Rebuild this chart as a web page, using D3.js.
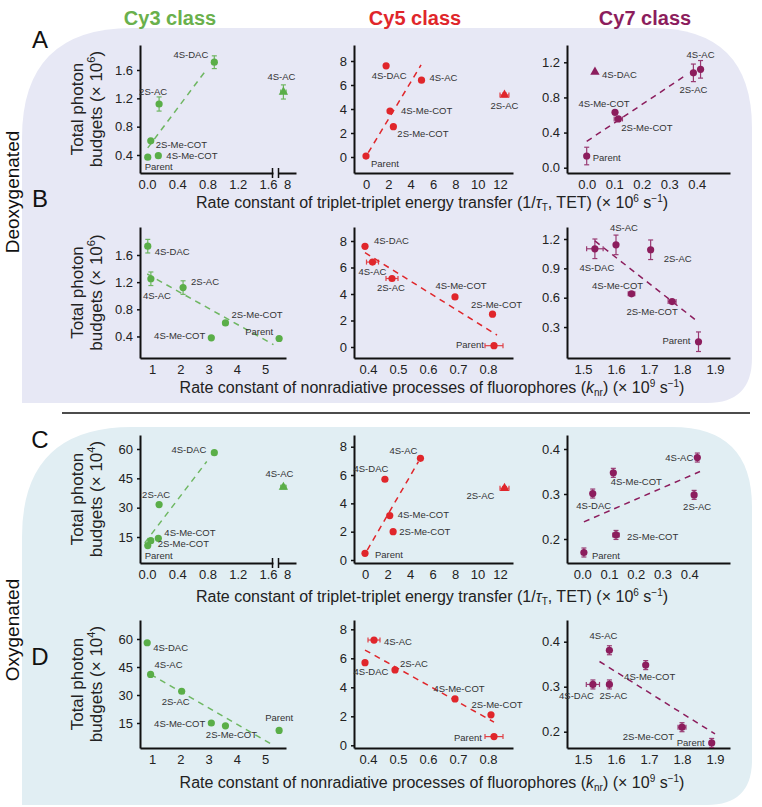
<!DOCTYPE html>
<html><head><meta charset="utf-8">
<script src="https://cdn.jsdelivr.net/npm/d3@7"></script>
<style>body{margin:0;background:#fff;} svg{display:block;font-family:"Liberation Sans",Arial,sans-serif;}</style>
</head><body><svg id="c" width="762" height="807"></svg>
<script>
// ---------------- DATA ----------------
const compounds = ["Parent","2S-Me-COT","4S-Me-COT","2S-AC","4S-AC","4S-DAC"];
const classes = ["Cy3 class","Cy5 class","Cy7 class"];

// A: deoxygenated, TET rate (x 10^6 s^-1) vs photon budget (x 10^6)
const A_cy3_x = [0.01, 0.05, 0.15, 0.16, 7.8, 0.89];
const A_cy3_y = [0.37, 0.60, 0.39, 1.12, 1.29, 1.71];
const A_cy3_xerr = [0, 0, 0, 0, 0.15, 0];
const A_cy3_yerr = [0, 0, 0, 0.10, 0.10, 0.09];
const A_cy3_fit = [[0.01, 0.50], [0.79, 1.61]];

const A_cy5_x = [0.0, 2.45, 2.15, 12.4, 4.97, 1.8];
const A_cy5_y = [0.08, 2.53, 3.83, 5.17, 6.4, 7.6];
const A_cy5_xerr = [0, 0, 0, 0.4, 0, 0];
const A_cy5_yerr = [0, 0, 0, 0.15, 0, 0];
const A_cy5_fit = [[0.2, 0.36], [4.93, 7.67]];

const A_cy7_x = [0.0, 0.115, 0.103, 0.388, 0.414, 0.03];
const A_cy7_y = [0.133, 0.555, 0.63, 1.08, 1.12, 1.09];
const A_cy7_xerr = [0, 0.015, 0, 0, 0, 0];
const A_cy7_yerr = [0.1, 0, 0, 0.1, 0.1, 0];
const A_cy7_fit = [[0.0, 0.3], [0.364, 1.06]];

// B: deoxygenated, knr (x 10^9 s^-1) vs photon budget (x 10^6)
const B_cy3_x = [5.5, 3.6, 3.1, 2.1, 0.96, 0.85];
const B_cy3_y = [0.37, 0.6, 0.38, 1.12, 1.25, 1.73];
const B_cy3_xerr = [0, 0, 0, 0, 0, 0];
const B_cy3_yerr = [0, 0, 0, 0.1, 0.1, 0.1];
const B_cy3_fit = [[0.83, 1.32], [5.3, 0.28]];

const B_cy5_x = [0.82, 0.815, 0.69, 0.48, 0.415, 0.39];
const B_cy5_y = [0.1, 2.48, 3.78, 5.17, 6.41, 7.6];
const B_cy5_xerr = [0.03, 0, 0, 0.02, 0.02, 0];
const B_cy5_yerr = [0, 0, 0, 0, 0, 0];
const B_cy5_fit = [[0.39, 7.12], [0.83, 0.9]];

const B_cy7_x = [1.85, 1.77, 1.647, 1.705, 1.6, 1.536];
const B_cy7_y = [0.15, 0.56, 0.64, 1.09, 1.14, 1.1];
const B_cy7_xerr = [0, 0.012, 0.01, 0, 0, 0.025];
const B_cy7_yerr = [0.1, 0, 0, 0.1, 0.1, 0.1];
const B_cy7_fit = [[1.536, 1.18], [1.85, 0.35]];

// C: oxygenated, TET rate vs photon budget (x 10^4)
const C_cy3_x = [0.01, 0.05, 0.15, 0.16, 7.8, 0.89];
const C_cy3_y = [10.6, 13.1, 14.3, 31.6, 40.5, 58.1];
const C_cy3_xerr = [0, 0, 0, 0, 0.15, 0];
const C_cy3_yerr = [0, 0, 0, 0, 1.0, 0];
const C_cy3_fit = [[-0.03, 12], [0.79, 53.6]];

const C_cy5_x = [0.0, 2.5, 2.2, 12.4, 4.93, 1.77];
const C_cy5_y = [0.47, 2.0, 3.14, 5.07, 7.18, 5.7];
const C_cy5_xerr = [0, 0, 0, 0.4, 0, 0];
const C_cy5_yerr = [0, 0, 0, 0.12, 0, 0];
const C_cy5_fit = [[0.2, 0.7], [4.75, 6.94]];

const C_cy7_x = [0.006, 0.126, 0.116, 0.418, 0.43, 0.039];
const C_cy7_y = [0.17, 0.209, 0.347, 0.298, 0.381, 0.301];
const C_cy7_xerr = [0, 0.012, 0, 0, 0, 0];
const C_cy7_yerr = [0.01, 0.01, 0.01, 0.01, 0.01, 0.01];
const C_cy7_fit = [[0.006, 0.238], [0.44, 0.35]];

// D: oxygenated, knr vs photon budget (x 10^4)
const D_cy3_x = [5.5, 3.6, 3.1, 2.05, 0.95, 0.83];
const D_cy3_y = [11, 13.5, 15, 32, 41, 58];
const D_cy3_xerr = [0, 0, 0, 0, 0, 0];
const D_cy3_yerr = [0, 0, 0, 0, 0, 0];
const D_cy3_fit = [[0.95, 41], [5.3, 3]];

const D_cy5_x = [0.82, 0.81, 0.69, 0.49, 0.42, 0.39];
const D_cy5_y = [0.6, 2.1, 3.2, 5.2, 7.26, 5.7];
const D_cy5_xerr = [0.03, 0, 0, 0, 0.02, 0];
const D_cy5_yerr = [0, 0, 0, 0, 0, 0];
const D_cy5_fit = [[0.39, 6.57], [0.82, 1.6]];

const D_cy7_x = [1.89, 1.8, 1.69, 1.58, 1.58, 1.53];
const D_cy7_y = [0.175, 0.21, 0.348, 0.305, 0.381, 0.305];
const D_cy7_xerr = [0, 0.012, 0, 0, 0, 0.02];
const D_cy7_yerr = [0.01, 0.01, 0.01, 0.01, 0.01, 0.01];
const D_cy7_fit = [[1.55, 0.356], [1.9, 0.195]];

// tick values
const tetCy3Ticks = [0.0, 0.4, 0.8, 1.2, 1.6];
const tetCy3BreakTicks = [8];
const tetCy5Ticks = [0, 2, 4, 6, 8, 10, 12];
const tetCy7Ticks = [0.0, 0.1, 0.2, 0.3, 0.4];
const knrCy3Ticks = [1, 2, 3, 4, 5];
const knrCy5Ticks = [0.4, 0.5, 0.6, 0.7, 0.8];
const knrCy7Ticks = [1.5, 1.6, 1.7, 1.8, 1.9];
const deoxCy3YTicks = [0.4, 0.8, 1.2, 1.6];
const deoxCy5YTicks = [0, 2, 4, 6, 8];
const deoxCy7YTicksA = [0.0, 0.4, 0.8, 1.2];
const deoxCy7YTicksB = [0.3, 0.6, 0.9, 1.2];
const oxCy3YTicks = [15, 30, 45, 60];
const oxCy5YTicks = [0, 2, 4, 6, 8];
const oxCy7YTicks = [0.2, 0.3, 0.4];

// ---------------- LAYOUT / STYLE ----------------
const COL = {cy3: "#5aae48", cy5: "#e0262b", cy7: "#8c1d5d"};
const HEAD = {cy3: "#6ab04c", cy5: "#e0262b", cy7: "#8c1d5d"};
const LABEL_SIZE = 9.5;
const svg = d3.select("#c");

function roundedPath(x0, y0, x1, y1, rtl, rtr, rbr, rbl) {
  return `M${x0},${y0 + rtl} Q${x0},${y0} ${x0 + rtl},${y0} L${x1 - rtr},${y0} Q${x1},${y0} ${x1},${y0 + rtr}
  L${x1},${y1 - rbr} Q${x1},${y1} ${x1 - rbr},${y1} L${x0 + rbl},${y1} Q${x0},${y1} ${x0},${y1 - rbl} Z`;
}
svg.append("path").attr("d", roundedPath(22, 28, 752, 403, 110, 100, 45, 0)).attr("fill", "#e7e8f5");
svg.append("path").attr("d", roundedPath(22, 427, 752, 805, 110, 80, 45, 0)).attr("fill", "#e1eef3");
svg.append("line").attr("x1", 62).attr("x2", 750).attr("y1", 413).attr("y2", 413).attr("stroke", "#111").attr("stroke-width", 1.5);

[["cy3", 170], ["cy5", 415], ["cy7", 645]].forEach(([k, cx], i) => {
  svg.append("text").attr("x", cx).attr("y", 25).attr("text-anchor", "middle")
    .attr("font-size", 20).attr("font-weight", "bold").attr("fill", HEAD[k]).text(classes[i]);
});
[["A", 42], ["B", 201], ["C", 442], ["D", 659]].forEach(([t, y]) => {
  svg.append("text").attr("x", 40).attr("y", y).attr("text-anchor", "middle").attr("dominant-baseline", "middle")
    .attr("font-size", 24).attr("fill", "#111").text(t);
});
[["Deoxygenated", 192], ["Oxygenated", 630]].forEach(([t, y]) => {
  svg.append("text").attr("transform", `translate(14,${y}) rotate(-90)`).attr("text-anchor", "middle")
    .attr("dominant-baseline", "middle").attr("font-size", 19).attr("fill", "#111").text(t);
});

const ROW = {A: [45, 173], B: [227, 358], C: [435, 563], D: [620, 748]};
const XR = {cy3: [140, 273], cy3k: [140, 286], cy5: [354, 513], cy7: [567, 730]};

function calib(v1, p1, v2, p2, pa, pb) {
  const k = (v2 - v1) / (p2 - p1);
  return [v1 + (pa - p1) * k, v1 + (pb - p1) * k];
}

function yTitle(row, exp) {
  const [t, b] = ROW[row];
  const cy = (t + b) / 2;
  svg.append("text").attr("transform", `translate(79,${cy}) rotate(-90)`).attr("text-anchor", "middle")
    .attr("dominant-baseline", "middle").attr("font-size", 17).attr("fill", "#222").text("Total photon");
  const t2 = svg.append("text").attr("transform", `translate(98,${cy}) rotate(-90)`).attr("text-anchor", "middle")
    .attr("dominant-baseline", "middle").attr("font-size", 17).attr("fill", "#222");
  t2.append("tspan").text("budgets (× 10");
  t2.append("tspan").attr("font-size", 11).attr("dy", -6).text(exp);
  t2.append("tspan").attr("dy", 6).text(")");
}
function xTitleTET(y) {
  const t = svg.append("text").attr("x", 432).attr("y", y).attr("text-anchor", "middle")
    .attr("dominant-baseline", "middle").attr("font-size", 16).attr("fill", "#222");
  t.append("tspan").text("Rate constant of triplet-triplet energy transfer (1/");
  t.append("tspan").attr("font-style", "italic").text("τ");
  t.append("tspan").attr("font-size", 10).attr("dy", 4).text("T");
  t.append("tspan").attr("dy", -4).text(", TET) (× 10");
  t.append("tspan").attr("font-size", 10).attr("dy", -5).text("6");
  t.append("tspan").attr("dy", 5).text(" s");
  t.append("tspan").attr("font-size", 10).attr("dy", -5).text("−1");
  t.append("tspan").attr("dy", 5).text(")");
}
function xTitleKnr(y) {
  const t = svg.append("text").attr("x", 432).attr("y", y).attr("text-anchor", "middle")
    .attr("dominant-baseline", "middle").attr("font-size", 16).attr("fill", "#222");
  t.append("tspan").text("Rate constant of nonradiative processes of fluorophores (");
  t.append("tspan").attr("font-style", "italic").text("k");
  t.append("tspan").attr("font-size", 10).attr("dy", 4).text("nr");
  t.append("tspan").attr("dy", -4).text(") (× 10");
  t.append("tspan").attr("font-size", 10).attr("dy", -5).text("9");
  t.append("tspan").attr("dy", 5).text(" s");
  t.append("tspan").attr("font-size", 10).attr("dy", -5).text("−1");
  t.append("tspan").attr("dy", 5).text(")");
}
yTitle("A", "6"); yTitle("B", "6"); yTitle("C", "4"); yTitle("D", "4");
xTitleTET(204); xTitleKnr(389); xTitleTET(598); xTitleKnr(784);

function drawPanel(p) {
  const g = svg.append("g");
  const [top, bot] = ROW[p.row];
  const [xl, xr] = XR[p.xr];
  const x = d3.scaleLinear().domain(calib(...p.xc, xl, xr)).range([xl, xr]);
  const y = d3.scaleLinear().domain(calib(...p.yc, bot, top)).range([bot, top]);
  const xb = p.brk ? d3.scaleLinear().domain(p.brk.d).range(p.brk.r) : null;
  const X = v => (xb && v >= p.brk.d[0]) ? xb(v) : x(v);
  const color = COL[p.cls];

  const ya = g.append("g").attr("transform", `translate(${xl},0)`)
    .call(d3.axisLeft(y).tickValues(p.yt).tickSize(3).tickSizeOuter(0).tickPadding(4).tickFormat(d3.format(p.yf)));
  const xa = g.append("g").attr("transform", `translate(0,${bot})`)
    .call(d3.axisBottom(x).tickValues(p.xt).tickSize(0).tickSizeOuter(0).tickPadding(7).tickFormat(d3.format(p.xf)));
  [ya, xa].forEach(a => {
    a.select(".domain").attr("stroke", "#111").attr("stroke-width", 2);
    a.selectAll(".tick line").attr("stroke", "#111").attr("stroke-width", 1.5);
    a.selectAll(".tick text").attr("font-size", 13).attr("fill", "#222").attr("font-family", "Liberation Sans, Arial, sans-serif");
  });
  if (xb) {
    const xa2 = g.append("g").attr("transform", `translate(0,${bot})`)
      .call(d3.axisBottom(xb).tickValues(p.brk.t).tickSize(0).tickSizeOuter(0).tickPadding(7).tickFormat(d3.format("d")));
    xa2.select(".domain").attr("stroke", "#111").attr("stroke-width", 2);
    xa2.selectAll(".tick text").attr("font-size", 13).attr("fill", "#222").attr("font-family", "Liberation Sans, Arial, sans-serif");
    [xr - 0.5, p.brk.r[0] + 0.5].forEach(bx => {
      g.append("line").attr("x1", bx).attr("x2", bx).attr("y1", bot - 5).attr("y2", bot + 5)
        .attr("stroke", "#111").attr("stroke-width", 1.5);
    });
  }

  g.append("line").attr("x1", X(p.fit[0][0])).attr("y1", y(p.fit[0][1]))
    .attr("x2", X(p.fit[1][0])).attr("y2", y(p.fit[1][1]))
    .attr("stroke", color).attr("stroke-width", 1.5).attr("stroke-dasharray", "6,5")
    .attr("opacity", p.cls === "cy3" ? 0.85 : 1);

  const pts = compounds.map((c, i) => ({c, i, x: p.x[i], y: p.y[i], xe: p.xe[i], ye: p.ye[i]}));
  const eb = g.append("g").attr("stroke", color).attr("stroke-width", 1.2).attr("opacity", 0.85);
  pts.forEach(d => {
    const cx = X(d.x), cy = y(d.y);
    if (d.ye > 0) {
      const y1 = y(d.y - d.ye), y2 = y(d.y + d.ye);
      eb.append("line").attr("x1", cx).attr("x2", cx).attr("y1", y1).attr("y2", y2);
      [y1, y2].forEach(yy => eb.append("line").attr("x1", cx - 2.5).attr("x2", cx + 2.5).attr("y1", yy).attr("y2", yy));
    }
    if (d.xe > 0) {
      const x1 = X(d.x - d.xe), x2 = X(d.x + d.xe);
      eb.append("line").attr("x1", x1).attr("x2", x2).attr("y1", cy).attr("y2", cy);
      [x1, x2].forEach(xx => eb.append("line").attr("x1", xx).attr("x2", xx).attr("y1", cy - 2.5).attr("y2", cy + 2.5));
    }
  });
  pts.forEach(d => {
    const cx = X(d.x), cy = y(d.y);
    if (p.tri && p.tri.includes(d.c)) {
      g.append("path").attr("d", d3.symbol(d3.symbolTriangle, 38)()).attr("transform", `translate(${cx},${cy})`).attr("fill", color);
    } else {
      g.append("circle").attr("cx", cx).attr("cy", cy).attr("r", 3.6).attr("fill", color);
    }
  });
  pts.forEach(d => {
    const L = p.lab[d.i];
    g.append("text").attr("x", X(d.x) + L[0]).attr("y", y(d.y) + L[1]).attr("text-anchor", L[2])
      .attr("dominant-baseline", "middle").attr("font-size", LABEL_SIZE).attr("fill", "#333").text(d.c);
  });
}

const S = "start", M = "middle", E = "end";
drawPanel({row: "A", cls: "cy3", xr: "cy3", x: A_cy3_x, y: A_cy3_y, xe: A_cy3_xerr, ye: A_cy3_yerr, fit: A_cy3_fit,
  xc: [0, 147, 1.6, 268], yc: [0.4, 155, 1.6, 70], xt: tetCy3Ticks, xf: ".1f", yt: deoxCy3YTicks, yf: ".1f",
  brk: {d: [7.5, 8.5], r: [278, 296], t: tetCy3BreakTicks}, tri: ["4S-AC"],
  lab: [[-3, 10, S], [5, 5, S], [8, 1, S], [-6, -12, M], [-2, -14, M], [-6, -7, E]]});
drawPanel({row: "A", cls: "cy5", xr: "cy5", x: A_cy5_x, y: A_cy5_y, xe: A_cy5_xerr, ye: A_cy5_yerr, fit: A_cy5_fit,
  xc: [0, 366, 12, 500], yc: [0, 157, 8, 61], xt: tetCy5Ticks, xf: "d", yt: deoxCy5YTicks, yf: "d", tri: ["2S-AC"],
  lab: [[5, 8, S], [4, 8, S], [11, 0, S], [0, 12, M], [8, -2, S], [3, 11, M]]});
drawPanel({row: "A", cls: "cy7", xr: "cy7", x: A_cy7_x, y: A_cy7_y, xe: A_cy7_xerr, ye: A_cy7_yerr, fit: A_cy7_fit,
  xc: [0, 586.7, 0.4, 696.7], yc: [0, 167.7, 1.2, 62.3], xt: tetCy7Ticks, xf: ".1f", yt: deoxCy7YTicksA, yf: ".1f", tri: ["4S-DAC"],
  lab: [[6, 2, S], [3, 10, S], [-11, -8, M], [0, 18, M], [0, -14, M], [7, 4, S]]});

drawPanel({row: "B", cls: "cy3", xr: "cy3k", x: B_cy3_x, y: B_cy3_y, xe: B_cy3_xerr, ye: B_cy3_yerr, fit: B_cy3_fit,
  xc: [1, 152, 5, 265], yc: [1.6, 255, 0.8, 309.3], xt: knrCy3Ticks, xf: "d", yt: deoxCy3YTicks, yf: ".1f",
  lab: [[-6, -6, E], [6, -7, S], [-6, -1, E], [8, -5, S], [6, 18, M], [7, 6, S]]});
drawPanel({row: "B", cls: "cy5", xr: "cy5", x: B_cy5_x, y: B_cy5_y, xe: B_cy5_xerr, ye: B_cy5_yerr, fit: B_cy5_fit,
  xc: [0.4, 368, 0.8, 488], yc: [0, 347, 8, 241], xt: knrCy5Ticks, xf: ".1f", yt: deoxCy5YTicks, yf: "d",
  lab: [[-10, 0, E], [4, -9, M], [6, -10, M], [-1, 10, M], [0, 10, M], [9, -5, S]]});
drawPanel({row: "B", cls: "cy7", xr: "cy7", x: B_cy7_x, y: B_cy7_y, xe: B_cy7_xerr, ye: B_cy7_yerr, fit: B_cy7_fit,
  xc: [1.5, 583, 1.9, 715], yc: [1.2, 239, 0.6, 297.7], xt: knrCy7Ticks, xf: ".1f", yt: deoxCy7YTicksB, yf: ".1f",
  lab: [[-8, 0, E], [-20, 11, M], [-14, -7, M], [13, 10, S], [8, -16, M], [2, 20, M]]});

drawPanel({row: "C", cls: "cy3", xr: "cy3", x: C_cy3_x, y: C_cy3_y, xe: C_cy3_xerr, ye: C_cy3_yerr, fit: C_cy3_fit,
  xc: [0, 147, 1.6, 268], yc: [60, 449, 15, 537], xt: tetCy3Ticks, xf: ".1f", yt: oxCy3YTicks, yf: "d",
  brk: {d: [7.5, 8.5], r: [278, 296], t: tetCy3BreakTicks}, tri: ["4S-AC"],
  lab: [[-3, 11, S], [7, 4, S], [6, -5, S], [-3, -9, M], [-4, -13, M], [-8, -2, E]]});
drawPanel({row: "C", cls: "cy5", xr: "cy5", x: C_cy5_x, y: C_cy5_y, xe: C_cy5_xerr, ye: C_cy5_yerr, fit: C_cy5_fit,
  xc: [0, 365, 12, 500], yc: [0, 560, 8, 446.7], xt: tetCy5Ticks, xf: "d", yt: oxCy5YTicks, yf: "d", tri: ["2S-AC"],
  lab: [[10, 2, S], [6, 1, S], [8, 0, S], [-24, 8, M], [-17, -7, M], [-14, -10, M]]});
drawPanel({row: "C", cls: "cy7", xr: "cy7", x: C_cy7_x, y: C_cy7_y, xe: C_cy7_xerr, ye: C_cy7_yerr, fit: C_cy7_fit,
  xc: [0, 582.3, 0.4, 689.3], yc: [0.4, 449, 0.2, 539], xt: tetCy7Ticks, xf: ".1f", yt: oxCy7YTicks, yf: ".1f",
  lab: [[8, 4, S], [11, 3, S], [23, 10, M], [3, 13, M], [-18, 1, M], [1, 13, M]]});

drawPanel({row: "D", cls: "cy3", xr: "cy3k", x: D_cy3_x, y: D_cy3_y, xe: D_cy3_xerr, ye: D_cy3_yerr, fit: D_cy3_fit,
  xc: [1, 152, 5, 265], yc: [60, 639, 15, 723], xt: knrCy3Ticks, xf: "d", yt: oxCy3YTicks, yf: "d",
  lab: [[0, -12, M], [6, 10, M], [-6, 1, E], [-6, 11, M], [4, -9, S], [6, 6, S]]});
drawPanel({row: "D", cls: "cy5", xr: "cy5", x: D_cy5_x, y: D_cy5_y, xe: D_cy5_xerr, ye: D_cy5_yerr, fit: D_cy5_fit,
  xc: [0.4, 368, 0.8, 488], yc: [0, 745.3, 8, 629.3], xt: knrCy5Ticks, xf: ".1f", yt: oxCy5YTicks, yf: "d",
  lab: [[-12, 2, E], [6, -9, M], [4, -9, M], [5, -5, S], [10, 2, S], [6, 10, M]]});
drawPanel({row: "D", cls: "cy7", xr: "cy7", x: D_cy7_x, y: D_cy7_y, xe: D_cy7_xerr, ye: D_cy7_yerr, fit: D_cy7_fit,
  xc: [1.5, 583, 1.9, 715], yc: [0.4, 641.7, 0.2, 731.7], xt: knrCy7Ticks, xf: ".1f", yt: oxCy7YTicks, yf: ".1f",
  lab: [[-7, 1, E], [-8, 10, E], [4, 12, M], [4, 12, M], [-6, -14, M], [1, 12, E]]});
</script></body></html>
